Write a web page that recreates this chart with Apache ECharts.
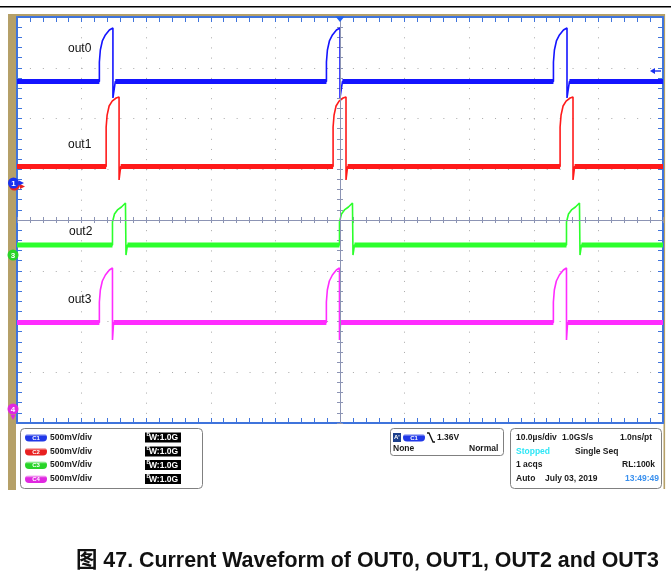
<!DOCTYPE html>
<html><head><meta charset="utf-8">
<script src="https://cdn.jsdelivr.net/npm/echarts@6/dist/echarts.min.js"></script>
<style>html,body{margin:0;padding:0;background:#fff}#c{width:671px;height:586px}</style>
</head><body><div id="c"></div>
<script>
// Time in µs (10 µs/div, trigger at 0); screen voltage in V (500 mV/div, 8 div)
const timeTicks = [-50, -40, -30, -20, -10, 0, 10, 20, 30, 40, 50];
const channelNames = ['out0', 'out1', 'out2', 'out3'];
const channelScale = ['500mV/div', '500mV/div', '500mV/div', '500mV/div'];
const channelBw = ['1.0G', '1.0G', '1.0G', '1.0G'];

const out0Base = 1.365;
const out0 = [
  [-50, 1.365],
  [-37.25, 1.365], [-37.25, 1.557], [-37.1, 1.675], [-36.79, 1.764], [-36.32, 1.823], [-35.7, 1.872], [-35.15, 1.892], [-35.15, 1.202], [-34.78, 1.365],
  [-2.1, 1.365], [-2.1, 1.557], [-1.95, 1.675], [-1.64, 1.764], [-1.17, 1.823], [-0.55, 1.872], [0, 1.892], [0, 1.202], [0.38, 1.365],
  [33.04, 1.365], [33.04, 1.557], [33.19, 1.675], [33.5, 1.764], [33.97, 1.823], [34.59, 1.872], [35.14, 1.892], [35.14, 1.202], [35.52, 1.365],
  [50, 1.365]
];

const out1Base = 0.527;
const out1 = [
  [-50, 0.527],
  [-36.2, 0.527], [-36.2, 0.916], [-36.05, 1.034], [-35.74, 1.123], [-35.27, 1.172], [-34.65, 1.202], [-34.2, 1.212], [-34.2, 0.394], [-33.95, 0.527],
  [-1.07, 0.527], [-1.07, 0.916], [-0.92, 1.034], [-0.61, 1.123], [-0.14, 1.172], [0.48, 1.202], [0.93, 1.212], [0.93, 0.394], [1.18, 0.527],
  [34.07, 0.527], [34.07, 0.916], [34.22, 1.034], [34.53, 1.123], [35.0, 1.172], [35.62, 1.202], [36.07, 1.212], [36.07, 0.394], [36.32, 0.527],
  [50, 0.527]
];

const out2Base = -0.246;
const out2 = [
  [-50, -0.246],
  [-35.22, -0.246], [-35.22, -0.02], [-34.91, 0.059], [-34.45, 0.099], [-33.83, 0.128], [-33.21, 0.167], [-33.13, 0.167], [-33.13, -0.345], [-32.9, -0.246],
  [-0.08, -0.246], [-0.08, -0.02], [0.23, 0.059], [0.69, 0.099], [1.31, 0.128], [1.93, 0.167], [2.01, 0.167], [2.01, -0.345], [2.24, -0.246],
  [35.06, -0.246], [35.06, -0.02], [35.37, 0.059], [35.83, 0.099], [36.45, 0.128], [37.07, 0.167], [37.15, 0.167], [37.15, -0.345], [37.38, -0.246],
  [50, -0.246]
];

const out3Base = -1.01;
const out3 = [
  [-50, -1.01],
  [-37.25, -1.01], [-37.25, -0.808], [-37.1, -0.69], [-36.79, -0.601], [-36.32, -0.542], [-35.7, -0.493], [-35.22, -0.473], [-35.22, -1.182], [-35.05, -1.01],
  [-2.11, -1.01], [-2.11, -0.808], [-1.96, -0.69], [-1.65, -0.601], [-1.18, -0.542], [-0.56, -0.493], [-0.08, -0.473], [-0.08, -1.182], [0.09, -1.01],
  [33.03, -1.01], [33.03, -0.808], [33.18, -0.69], [33.49, -0.601], [33.96, -0.542], [34.58, -0.493], [35.06, -0.473], [35.06, -1.182], [35.23, -1.01],
  [50, -1.01]
];

const caption = '图 47. Current Waveform of OUT0, OUT1, OUT2 and OUT3';

// ---------- styling ----------
const colors = ['#1414ff', '#ff1a1a', '#2cff2c', '#ff2cff'];
const pillColors = ['#2038e8', '#e82020', '#28d428', '#e028e0'];
const tan = '#b5a068';
const border = '#3f74dc';
const cross = '#8c94b4';
const gridDot = '#a9a9a9';

function band(trace, base) {
  return trace.map(p => (p[1] === base ? p : [p[0], '-']));
}

const traces = [[out0, out0Base], [out1, out1Base], [out2, out2Base], [out3, out3Base]];
const series = [];
for (let i = traces.length - 1; i >= 0; i--) {
  const [tr, base] = traces[i];
  series.push({
    type: 'line', name: channelNames[i] + ' noise', xAxisIndex: 0, yAxisIndex: 0,
    data: band(tr, base), symbol: 'none', connectNulls: false, animation: false, silent: true,
    lineStyle: { color: colors[i], width: 5 }, z: 3
  });
  series.push({
    type: 'line', name: channelNames[i], xAxisIndex: 0, yAxisIndex: 0,
    data: tr, symbol: 'none', animation: false, silent: true,
    lineStyle: { color: colors[i], width: 1.6 }, z: 4
  });
}
series.push({
  type: 'line', data: [], xAxisIndex: 0, yAxisIndex: 0, silent: true, animation: false,
  markLine: {
    silent: true, symbol: ['none', 'none'], label: { show: false }, animation: false,
    lineStyle: { type: 'solid', color: cross, width: 1 },
    data: [{ xAxis: 0 }, { yAxis: 0 }]
  }, z: 1
});

const hidden = { show: false };
function borderAxis(pos, extra) {
  return Object.assign({
    type: 'value', gridIndex: 0, position: pos,
    axisLine: { show: true, onZero: false, lineStyle: { color: border, width: 2 } },
    axisTick: { show: true, inside: true, length: 5, lineStyle: { color: border, width: 1 } },
    minorTick: { show: true, splitNumber: 5, length: 5, lineStyle: { color: border, width: 1 } },
    axisLabel: hidden, splitLine: hidden
  }, extra);
}

const graphic = [];
// top rule
graphic.push({ type: 'rect', shape: { x: 0, y: 6, width: 671, height: 1.6 }, style: { fill: '#000' }, z: 0 });
// tan frame
graphic.push({ type: 'rect', shape: { x: 8, y: 14, width: 8, height: 476 }, style: { fill: tan }, z: 0 });
graphic.push({ type: 'rect', shape: { x: 8, y: 14, width: 657, height: 2.5 }, style: { fill: tan }, z: 0 });
graphic.push({ type: 'rect', shape: { x: 663.5, y: 14, width: 1.6, height: 475 }, style: { fill: tan }, z: 0 });

// channel markers
graphic.push({ type: 'circle', shape: { cx: 14.5, cy: 185, r: 5.5 }, style: { fill: '#e82020' }, z: 20 });
graphic.push({ type: 'circle', shape: { cx: 13.5, cy: 183, r: 5.5 }, style: { fill: '#1830f0' }, z: 21 });
graphic.push({ type: 'text', style: { text: '1', x: 13.5, y: 183.5, fill: '#fff', font: 'bold 8px "Liberation Sans"', align: 'center', verticalAlign: 'middle', textAlign: 'center', textVerticalAlign: 'middle' }, z: 22 });
graphic.push({ type: 'polygon', shape: { points: [[19, 180.5], [24, 183], [19, 185.5]] }, style: { fill: '#1830f0' }, z: 21 });
graphic.push({ type: 'polygon', shape: { points: [[20, 184], [25, 186.5], [20, 189]] }, style: { fill: '#e82020' }, z: 20 });
graphic.push({ type: 'circle', shape: { cx: 13, cy: 255, r: 5.5 }, style: { fill: '#28d428' }, z: 21 });
graphic.push({ type: 'text', style: { text: '3', x: 13, y: 255.5, fill: '#fff', font: 'bold 8px "Liberation Sans"', align: 'center', verticalAlign: 'middle', textAlign: 'center', textVerticalAlign: 'middle' }, z: 22 });
graphic.push({ type: 'circle', shape: { cx: 13, cy: 409, r: 5.5 }, style: { fill: '#e028e0' }, z: 21 });
graphic.push({ type: 'text', style: { text: '4', x: 13, y: 409.5, fill: '#fff', font: 'bold 8px "Liberation Sans"', align: 'center', verticalAlign: 'middle', textAlign: 'center', textVerticalAlign: 'middle' }, z: 22 });
graphic.push({ type: 'polygon', shape: { points: [[10.5, 415], [15.5, 415], [13, 420]] }, style: { fill: '#e028e0' }, z: 21 });

// trigger position / level markers
graphic.push({ type: 'polygon', shape: { points: [[335.5, 16.5], [344.5, 16.5], [340, 22]] }, style: { fill: '#2060f0' }, z: 20 });
graphic.push({ type: 'polygon', shape: { points: [[650, 71], [655, 68], [655, 74]] }, style: { fill: '#1830f0' }, z: 20 });
graphic.push({ type: 'rect', shape: { x: 654, y: 70.3, width: 7, height: 1.4 }, style: { fill: '#1830f0' }, z: 20 });

// trace labels
const labelXY = [[68, 49], [68, 145], [69, 232], [68, 300]];
channelNames.forEach((n, i) => {
  graphic.push({ type: 'text', style: { text: n, x: labelXY[i][0], y: labelXY[i][1], fill: '#111', font: '12px "Liberation Sans"', verticalAlign: 'middle', textVerticalAlign: 'middle' }, z: 30 });
});

// info panels
const boxStyle = { fill: '#fff', stroke: '#808080', lineWidth: 1 };
graphic.push({ type: 'rect', shape: { x: 20.5, y: 428.5, width: 182, height: 60, r: 4 }, style: boxStyle, z: 5 });
graphic.push({ type: 'rect', shape: { x: 390.5, y: 428.5, width: 113, height: 27, r: 3 }, style: boxStyle, z: 5 });
graphic.push({ type: 'rect', shape: { x: 510.5, y: 428.5, width: 151, height: 60, r: 4 }, style: boxStyle, z: 5 });

const pf = 'bold 8.5px "Liberation Sans"';
function txt(t, x, y, fill, font) {
  graphic.push({ type: 'text', style: { text: t, x: x, y: y, fill: fill || '#1a1a1a', font: font || pf, verticalAlign: 'middle', textVerticalAlign: 'middle' }, z: 10 });
}
function pill(x, y, c, label) {
  graphic.push({ type: 'rect', shape: { x: x, y: y - 4, width: 22, height: 8, r: 4 },
    style: { fill: new echarts.graphic.LinearGradient(0, 0, 0, 1, [{ offset: 0, color: '#ffffff' }, { offset: 0.35, color: c }, { offset: 1, color: c }]) }, z: 10 });
  graphic.push({ type: 'text', style: { text: label, x: x + 11, y: y + 0.5, fill: '#fff', font: 'bold 6px "Liberation Sans"', align: 'center', verticalAlign: 'middle', textAlign: 'center', textVerticalAlign: 'middle' }, z: 11 });
}
const rowY = [437.5, 451.5, 465, 479];
for (let i = 0; i < 4; i++) {
  pill(25, rowY[i], pillColors[i], 'C' + (i + 1));
  txt(channelScale[i], 50, rowY[i]);
  graphic.push({ type: 'rect', shape: { x: 145, y: rowY[i] - 5, width: 36, height: 10 }, style: { fill: '#000' }, z: 10 });
  txt('B', 146.5, rowY[i] - 2.5, '#fff', 'bold 5px "Liberation Sans"');
  txt('W:' + channelBw[i], 149, rowY[i] + 0.5, '#fff');
}
// trigger box
graphic.push({ type: 'rect', shape: { x: 393, y: 433, width: 8, height: 9 }, style: { fill: '#1c3f8c' }, z: 10 });
txt("A'", 394, 437.5, '#fff', 'bold 6px "Liberation Sans"');
pill(403, 437.5, pillColors[0], 'C1');
graphic.push({ type: 'polyline', shape: { points: [[427, 433], [429, 433], [433, 442], [435, 442]] }, style: { stroke: '#111', lineWidth: 1.3, fill: null }, z: 10 });
txt('1.36V', 437, 437.5);
txt('None', 393, 448.5);
txt('Normal', 469, 448.5);
// acquisition box
txt('10.0µs/div', 516, 437.5);
txt('1.0GS/s', 562, 437.5);
txt('1.0ns/pt', 620, 437.5);
txt('Stopped', 516, 451.5, '#2ee6f6');
txt('Single Seq', 575, 451.5);
txt('1 acqs', 516, 465);
txt('RL:100k', 622, 465);
txt('Auto', 516, 479);
txt('July 03, 2019', 545, 479);
txt('13:49:49', 625, 479, '#3a90ee');

const option = {
  backgroundColor: '#ffffff',
  animation: false,
  title: {
    text: caption, left: 71, top: 545,
    textStyle: { fontFamily: '"Liberation Sans", "Noto Sans CJK SC", sans-serif', fontWeight: 'bold', fontSize: 21.4, color: '#111' }
  },
  grid: [
    { left: 17, top: 17, width: 646, height: 406 },
    { left: 17, top: 217, width: 646, height: 6 },
    { left: 337, top: 17, width: 6, height: 406 }
  ],
  xAxis: [
    borderAxis('bottom', { min: timeTicks[0], max: timeTicks[timeTicks.length - 1], interval: 10,
      splitLine: { show: true, lineStyle: { color: gridDot, width: 1, type: [1, 9.15] } } }),
    borderAxis('top', { min: timeTicks[0], max: timeTicks[timeTicks.length - 1], interval: 10 }),
    { type: 'value', gridIndex: 1, min: timeTicks[0], max: timeTicks[timeTicks.length - 1], interval: 10, position: 'bottom',
      axisLine: hidden, axisLabel: hidden, splitLine: hidden,
      axisTick: { show: true, inside: true, length: 6, lineStyle: { color: cross } },
      minorTick: { show: true, splitNumber: 5, length: 6, lineStyle: { color: cross } } },
    { type: 'value', gridIndex: 2, min: 0, max: 1, show: false }
  ],
  yAxis: [
    borderAxis('left', { min: -2, max: 2, interval: 0.5,
      splitLine: { show: true, lineStyle: { color: gridDot, width: 1, type: [1, 11.92] } } }),
    borderAxis('right', { min: -2, max: 2, interval: 0.5 }),
    { type: 'value', gridIndex: 1, min: 0, max: 1, show: false },
    { type: 'value', gridIndex: 2, min: -2, max: 2, interval: 0.5, position: 'left',
      axisLine: hidden, axisLabel: hidden, splitLine: hidden,
      axisTick: { show: true, inside: true, length: 6, lineStyle: { color: cross } },
      minorTick: { show: true, splitNumber: 5, length: 6, lineStyle: { color: cross } } }
  ],
  graphic: graphic,
  series: series
};

const chart = echarts.init(document.getElementById('c'), null, { renderer: 'canvas' });
chart.setOption(option);
</script>
</body></html>
